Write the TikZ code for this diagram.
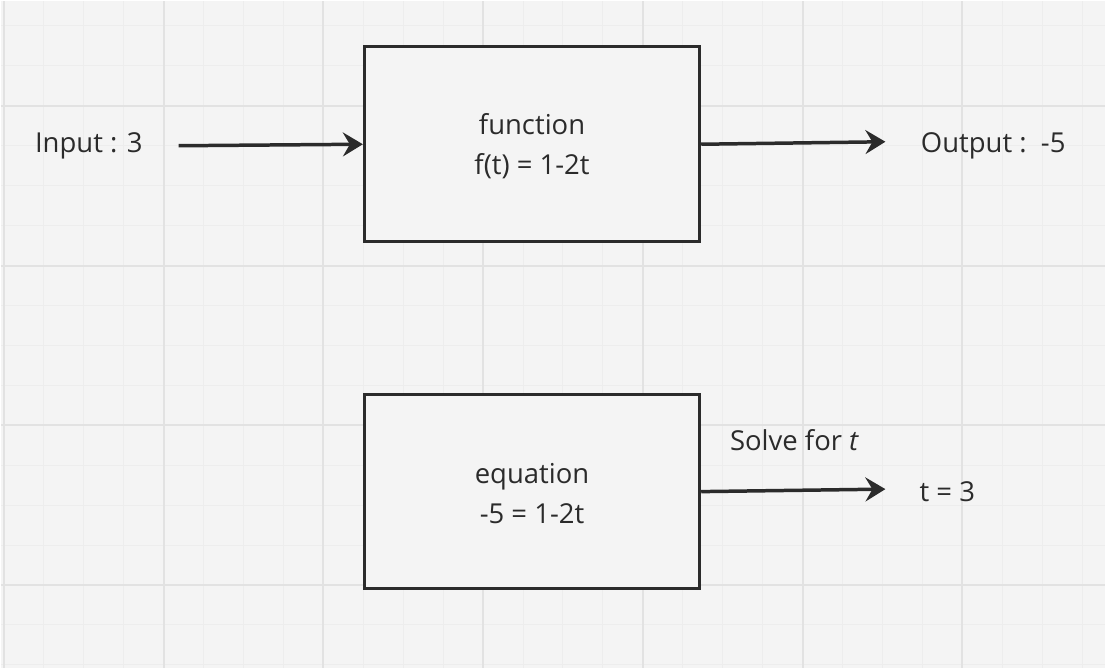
\documentclass[tikz,border=0pt]{standalone}
\usepackage{fontspec}
\setmainfont{Open Sans}
\usetikzlibrary{arrows.meta}
\definecolor{bg}{HTML}{F4F4F4}
\definecolor{minor}{HTML}{EDEDED}
\definecolor{major}{HTML}{E2E2E2}
\definecolor{ink}{HTML}{2B2B2B}
\begin{document}
\begin{tikzpicture}[x=1pt,y=-1pt,
  box/.style={draw=ink,line width=3pt,fill=bg,minimum width=336pt,minimum height=195pt,inner sep=0pt},
  lbl/.style={font=\fontsize{27.5}{40}\selectfont,text=ink,align=center,inner sep=0pt},
  arr/.style={draw=ink,line width=3.5pt,-{Stealth[length=20pt,width=24pt,inset=7pt]}}]
\fill[bg] (0,0) rectangle (1106,668);
\foreach \x in {3,43,...,1106} \draw[minor,line width=1pt] (\x,0) -- (\x,668);
\foreach \y in {25,65,...,668} \draw[minor,line width=1pt] (0,\y) -- (1106,\y);
\foreach \x in {3,163,...,1106} \draw[major,line width=2pt] (\x,0) -- (\x,668);
\foreach \y in {105,265,...,668} \draw[major,line width=2pt] (0,\y) -- (1106,\y);
\useasboundingbox (0,0) rectangle (1106,668);
\node[box] (f) at (532,143.5) {};
\node[lbl] (ft) at (532,145) {function\\f(t) = 1-2t};
\node[box] (e) at (532,491.5) {};
\node[lbl] (et) at (532,493) {equation\\-5 = 1-2t};
\node[lbl] (in) at (88,145) {Input : 3};
\node[lbl] (out) at (994,145) {Output :\ \ -5};
\node[lbl] (t) at (948,492) {t = 3};
\node[lbl] (s) at (795,440) {Solve for \textit{t}};
\coordinate (a1) at (178,145);
\coordinate (b1) at (886,141);
\coordinate (b2) at (886,489);
\draw[arr] (a1) -- (f.west);
\draw[arr] (f.east) -- (b1);
\draw[arr] (e.east) -- (b2);
\end{tikzpicture}
\end{document}
